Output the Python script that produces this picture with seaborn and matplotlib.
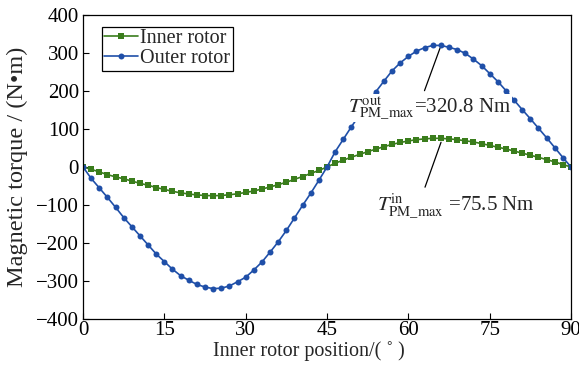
import numpy as np
import pandas as pd
import matplotlib
matplotlib.use("Agg")
import matplotlib.pyplot as plt
import seaborn as sns

# ---- data ----
position = [0, 1.5, 3, 4.5, 6, 7.5, 9, 10.5, 12, 13.5, 15, 16.5, 18, 19.5, 21, 22.5,
            24, 25.5, 27, 28.5, 30, 31.5, 33, 34.5, 36, 37.5, 39, 40.5, 42, 43.5, 45,
            46.5, 48, 49.5, 51, 52.5, 54, 55.5, 57, 58.5, 60, 61.5, 63, 64.5, 66, 67.5,
            69, 70.5, 72, 73.5, 75, 76.5, 78, 79.5, 81, 82.5, 84, 85.5, 87, 88.5, 90]

outer_torque = [0, -30, -55, -80, -106, -133, -157, -181, -205, -229, -249, -269, -286,
                -298, -309, -316, -320, -319, -313, -302, -290, -271, -250, -224, -197,
                -167, -134, -101, -69, -35, 0, 40, 73, 106, 137, 168, 198, 226, 253, 274,
                291, 305, 314, 320, 320, 315, 309, 299, 284, 267, 246, 225, 201, 176,
                151, 127, 102, 77, 51, 25, 0]

inner_torque = [0, -6, -13, -20, -26, -31, -37, -43, -48, -54, -59, -64, -68, -71,
                -73.5, -75, -75.5, -75, -73, -70.5, -67, -63, -58, -52.5, -46.5, -40,
                -32.5, -25, -17, -9, 0, 10, 18, 26, 33, 40.5, 47, 53.5, 59.5, 64.5, 68.5,
                72, 74, 75.5, 75.5, 74, 72, 69, 66, 61.5, 57, 52, 47.5, 42, 36.5, 31,
                25.5, 19.5, 13.5, 6.5, 0]

series_names = ["Inner rotor", "Outer rotor"]
x_ticks = [0, 15, 30, 45, 60, 75, 90]
y_ticks = [-400, -300, -200, -100, 0, 100, 200, 300, 400]

df = pd.DataFrame({
    "position": position * 2,
    "torque": inner_torque + outer_torque,
    "rotor": [series_names[0]] * len(position) + [series_names[1]] * len(position),
})

# ---- style ----
sns.set_theme(style="ticks")
plt.rcParams["font.family"] = ["Liberation Serif", "DejaVu Serif"]
plt.rcParams["mathtext.fontset"] = "stix"

green = "#3a7d1c"
blue = "#1f4fa8"

fig = plt.figure(figsize=(5.79, 3.67), dpi=100)
ax = fig.add_axes([0.1434, 0.1308, 0.8428, 0.8283])

sns.lineplot(data=df, x="position", y="torque", hue="rotor", style="rotor",
             palette={series_names[0]: green, series_names[1]: blue},
             markers={series_names[0]: "s", series_names[1]: "o"},
             dashes=False, markersize=4.3, markeredgewidth=0, linewidth=1.2,
             ax=ax, legend=True)

ax.set_xlim(0, 90)
ax.set_ylim(-400, 400)
ax.set_xticks(x_ticks)
ax.set_yticks(y_ticks)
ax.set_xticklabels([str(t) for t in x_ticks])
ax.set_yticklabels([("\u2212" + str(-t)) if t < 0 else str(t) for t in y_ticks])
ax.tick_params(direction="in", length=4, width=0.8, labelsize=15, pad=1.5,
               top=False, right=False, colors="black")
ax.tick_params(axis="y", pad=3)
for s in ax.spines.values():
    s.set_linewidth(0.9)
    s.set_color("black")

ax.set_xlabel("Inner rotor position/( \u02da )", fontsize=14.5, labelpad=0)
ax.xaxis.set_label_coords(0.463, -0.072)
ax.set_ylabel("Magnetic torque / (N\u2022m)", fontsize=17.5, labelpad=6)

leg = ax.legend(loc="upper left", bbox_to_anchor=(0.03, 0.975), fontsize=14.5,
                frameon=True, fancybox=False, edgecolor="black", framealpha=1,
                handlelength=1.7, handletextpad=0.1, borderpad=0.12,
                labelspacing=0.05, borderaxespad=0.2)
leg.get_frame().set_linewidth(0.9)
leg.set_title(None)

# annotations
ax.annotate("", xy=(66, 319), xytext=(62.8, 194),
            arrowprops=dict(arrowstyle="-", color="black", lw=0.9))
ax.annotate("", xy=(66.2, 72), xytext=(62.9, -60),
            arrowprops=dict(arrowstyle="-", color="black", lw=0.9))
ax.text(48.9, 145, r"$T^{\mathrm{out}}_{\mathrm{PM\_max}}$=320.8 Nm", fontsize=15,
        va="baseline", ha="left", zorder=5,
        bbox=dict(facecolor="white", edgecolor="none", pad=0.5))
ax.text(54.2, -115, r"$T^{\mathrm{in}}_{\mathrm{PM\_max}}$ =75.5 Nm", fontsize=15,
        va="baseline", ha="left", zorder=5)

fig.savefig("out.png", dpi=100)
